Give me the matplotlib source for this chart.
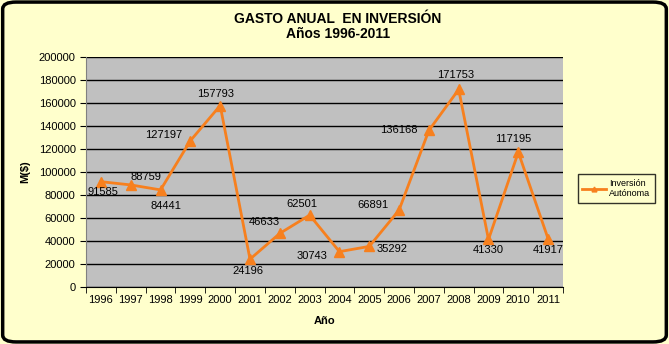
import matplotlib.pyplot as plt
from matplotlib.patches import FancyBboxPatch
import numpy as np

# Datos: gasto anual en inversion
years = ["1996", "1997", "1998", "1999", "2000", "2001", "2002", "2003",
         "2004", "2005", "2006", "2007", "2008", "2009", "2010", "2011"]
inversion = [91585, 88759, 84441, 127197, 157793, 24196, 46633, 62501,
             30743, 35292, 66891, 136168, 171753, 41330, 117195, 41917]
# label offsets (pixels, x right / y up)
offsets = [(2, -10), (15, 8), (5, -16), (-27, 6), (-5, 12), (-2, -12),
           (-16, 11), (-8, 11), (-27, -4), (23, -3), (-26, 5), (-30, 0),
           (-3, 14), (0, -11), (-5, 13), (0, -11)]

plt.rcParams['font.family'] = ['Liberation Sans', 'DejaVu Sans']

bg = '#FFFFCC'
orange = '#F7801E'

fig = plt.figure(figsize=(6.69, 3.44), dpi=100, facecolor=bg)
fig.patches.append(FancyBboxPatch((0.004, 0.006), 0.992, 0.988,
                                  boxstyle="round,pad=0,rounding_size=0.02",
                                  transform=fig.transFigure, facecolor='none',
                                  edgecolor='black', linewidth=2.5))

ax = fig.add_axes([0.1286, 0.1657, 0.713, 0.6686])
ax.set_facecolor('#C0C0C0')

x = np.arange(len(years))
line, = ax.plot(x, inversion, color=orange, lw=2, marker='^', ms=7,
                label='Inversión\nAutónoma', zorder=3)

for xi, v, (dx, dy) in zip(x, inversion, offsets):
    ax.annotate(str(v), (xi, v), xytext=(dx, dy), textcoords='offset pixels',
                ha='center', va='center', fontsize=8, zorder=4)

ax.set_xlim(-0.5, len(years) - 0.5)
ax.set_ylim(0, 200000)
ax.set_yticks(np.arange(0, 200001, 20000))
ax.yaxis.grid(True, color='black', lw=1)
ax.set_axisbelow(True)

ax.set_xticks(x)
ax.set_xticklabels(years, fontsize=8)
ax.set_xticks(np.arange(-0.5, len(years)), minor=True)
ax.tick_params(axis='x', which='major', length=0, pad=6)
ax.tick_params(axis='x', which='minor', length=4, direction='out')
ax.tick_params(axis='y', labelsize=8, length=4, direction='out')

for s in ['top', 'right']:
    ax.spines[s].set_visible(False)
ax.spines['left'].set_color('#808080')
ax.spines['bottom'].set_color('black')

ax.set_xlabel('Año', fontsize=8, fontweight='bold', labelpad=8)
ax.set_ylabel('M($)', fontsize=8, fontweight='bold', labelpad=6)

fig.text(0.505, 0.945, 'GASTO ANUAL  EN INVERSIÓN', ha='center', va='center',
         fontsize=10, fontweight='bold')
fig.text(0.505, 0.9, 'Años 1996-2011', ha='center', va='center',
         fontsize=10, fontweight='bold')

leg = fig.legend(handles=[line], loc='center', bbox_to_anchor=(0.921, 0.452),
                 fontsize=6.5, frameon=True, fancybox=False, handlelength=2.6,
                 handletextpad=0.4, borderpad=0.5, borderaxespad=0,
                 markerscale=0.5)
leg.get_frame().set_edgecolor('black')
leg.get_frame().set_facecolor(bg)
leg.get_frame().set_linewidth(1)

fig.savefig('out.png', dpi=100, facecolor=bg)
